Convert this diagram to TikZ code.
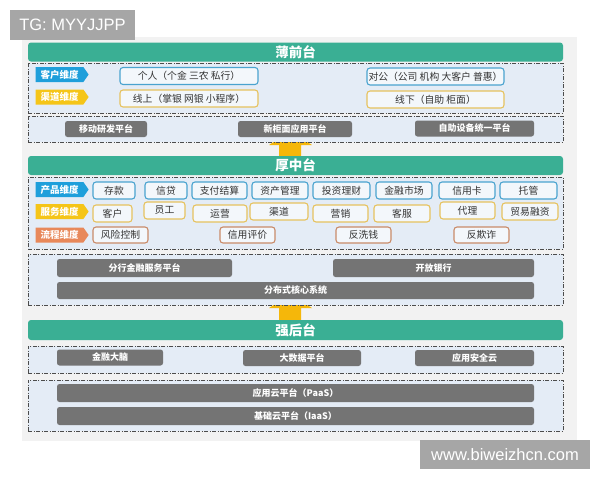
\documentclass[tikz,border=0pt]{standalone}
\usepackage{fontspec}
\setmainfont{Noto Sans CJK SC}
\newfontfamily\wmfont{Liberation Sans}
\usetikzlibrary{shapes.symbols,positioning}

\definecolor{teal}{HTML}{3AAF94}
\definecolor{panelfill}{HTML}{E4ECF6}
\definecolor{boxfill}{HTML}{F3F7FB}
\definecolor{bluetag}{HTML}{1E9FDB}
\definecolor{blueline}{HTML}{4AA3CF}
\definecolor{yellowtag}{HTML}{F5C518}
\definecolor{yellowline}{HTML}{E6C25E}
\definecolor{orangetag}{HTML}{E8885A}
\definecolor{orangeline}{HTML}{C98B69}
\definecolor{barfill}{HTML}{747474}
\definecolor{bgfill}{HTML}{F2F2F2}
\definecolor{wmfill}{HTML}{A6A6A6}
\definecolor{arrowfill}{HTML}{F5B70A}

\tikzset{
  titlebar/.style = {fill = teal, rounded corners = 3pt, minimum width = 535pt, minimum height = 19pt,
    text = white, font = \fontsize{13.5}{15}\selectfont\bfseries},
  panel/.style = {draw = black!70, fill = panelfill, line width = .55pt,
    dash pattern = on 4pt off 1.5pt on 1pt off 1.5pt, minimum width = 535pt},
  tag/.style = {signal, signal to = east, signal pointer angle = 110, fill = #1,
    minimum width = 53pt, minimum height = 15pt, text = white, font = \fontsize{9.5}{11}\selectfont\bfseries},
  dimbox/.style = {draw = #1, fill = boxfill, line width = 1.1pt, rounded corners = 3pt,
    minimum height = 17pt, text = black!80},
  bar/.style = {fill = barfill, rounded corners = 2.5pt, minimum height = 17pt,
    text = white, font = \fontsize{9}{11}\selectfont\bfseries},
  watermark/.style = {fill = wmfill, text = white, font = \wmfont\fontsize{16.5}{18}\selectfont}
}

\begin{document}
\begin{tikzpicture}[x = 1pt, y = -1pt, every node/.style = {inner sep = 0pt, font = \fontsize{9.8}{11}\selectfont}]
    \useasboundingbox (0,0) rectangle (600,480);
    \fill[bgfill] (22,37) rectangle (577,441);
    % arrows between the layers, mostly hidden
    \fill[arrowfill] (279,157) -- (279,145) -- (269,145) -- (290,131) -- (312,145) -- (301,145) -- (301,157) -- cycle;
    \fill[arrowfill] (279,320) -- (279,308) -- (269,308) -- (290,294) -- (312,308) -- (301,308) -- (301,320) -- cycle;

    % thin front
    \node[titlebar] (thin) at (295.5,52) {薄前台};
    \node[panel, minimum height = 50pt] (frontdims) at (295.5,88) {};
    \node[tag = bluetag] (custdim) at (59.5,74.5) {客户维度};
    \node[tag = yellowtag] (chandim) at (59.5,97) {渠道维度};
    \node[dimbox = blueline, minimum width = 138pt] (retail) at (189,76) {个人（个金 三农 私行）};
    \node[dimbox = blueline, minimum width = 137pt] (corp) at (435.5,76.5) {对公（公司 机构 大客户 普惠）};
    \node[dimbox = yellowline, minimum width = 138pt] (online) at (189,98.5) {线上（掌银 网银 小程序）};
    \node[dimbox = yellowline, minimum width = 137pt] (offline) at (435.5,99.5) {线下（自助 柜面）};
    \node[panel, minimum height = 26pt] (frontbase) at (295.5,129) {};
    \node[bar, minimum width = 82pt, minimum height = 16pt] (mobile) at (106,129) {移动研发平台};
    \node[bar, minimum width = 114pt, minimum height = 16pt] (counter) at (295,129) {新柜面应用平台};
    \node[bar, minimum width = 119pt, minimum height = 16pt] (selfserv) at (474.5,128.5) {自助设备统一平台};

    % thick middle
    \node[titlebar] (thick) at (295.5,165.5) {厚中台};
    \node[panel, minimum height = 72pt] (middims) at (295.5,213) {};
    \node[tag = bluetag] (proddim) at (59.5,189.5) {产品维度};
    \node[tag = yellowtag] (servdim) at (59.5,211.5) {服务维度};
    \node[tag = orangetag] (procdim) at (59.5,235) {流程维度};
    \node[dimbox = blueline, minimum width = 42pt] (deposit) at (114,190.5) {存款};
    \node[dimbox = blueline, minimum width = 42pt] (loan) at (166,190.5) {信贷};
    \node[dimbox = blueline, minimum width = 55pt] (payment) at (219.5,190.5) {支付结算};
    \node[dimbox = blueline, minimum width = 56pt] (asset) at (280,190.5) {资产管理};
    \node[dimbox = blueline, minimum width = 57pt] (wealth) at (341.5,190.5) {投资理财};
    \node[dimbox = blueline, minimum width = 56pt] (market) at (404,190.5) {金融市场};
    \node[dimbox = blueline, minimum width = 56pt] (card) at (467,190.5) {信用卡};
    \node[dimbox = blueline, minimum width = 57pt] (custody) at (528.5,190.5) {托管};
    \node[dimbox = yellowline, minimum width = 39pt] (client) at (112.5,213.5) {客户};
    \node[dimbox = yellowline, minimum width = 41pt] (staff) at (164.5,210.5) {员工};
    \node[dimbox = yellowline, minimum width = 54pt] (ops) at (220,213.5) {运营};
    \node[dimbox = yellowline, minimum width = 58pt] (channel) at (279,211.5) {渠道};
    \node[dimbox = yellowline, minimum width = 55pt] (marketing) at (340.5,213.5) {营销};
    \node[dimbox = yellowline, minimum width = 56pt] (support) at (402,213.5) {客服};
    \node[dimbox = yellowline, minimum width = 55pt] (agency) at (467.5,210.5) {代理};
    \node[dimbox = yellowline, minimum width = 56pt] (trade) at (530,211.5) {贸易融资};
    \node[dimbox = orangeline, minimum width = 55pt, minimum height = 16pt] (risk) at (120.5,235) {风险控制};
    \node[dimbox = orangeline, minimum width = 55pt, minimum height = 16pt] (credit) at (247.5,235) {信用评价};
    \node[dimbox = orangeline, minimum width = 55pt, minimum height = 16pt] (aml) at (363.5,235) {反洗钱};
    \node[dimbox = orangeline, minimum width = 55pt, minimum height = 16pt] (fraud) at (481.5,235) {反欺诈};
    \node[panel, minimum height = 51pt] (midbase) at (295.5,279.5) {};
    \node[bar, minimum width = 175pt, minimum height = 18pt] (branch) at (144.5,268) {分行金融服务平台};
    \node[bar, minimum width = 201pt, minimum height = 18pt] (openbank) at (433.5,268) {开放银行};
    \node[bar, minimum width = 477pt] (core) at (295.5,290.5) {分布式核心系统};

    % strong back
    \node[titlebar, minimum height = 20pt] (strong) at (295.5,330) {强后台};
    \node[panel, minimum height = 27pt] (backapps) at (295.5,359.5) {};
    \node[bar, minimum width = 106pt, minimum height = 16pt] (brain) at (110,357.5) {金融大脑};
    \node[bar, minimum width = 118pt, minimum height = 16pt] (bigdata) at (302,358) {大数据平台};
    \node[bar, minimum width = 119pt, minimum height = 16pt] (secure) at (474.5,358) {应用安全云};
    \node[panel, minimum height = 51pt] (backcloud) at (295.5,405.5) {};
    \node[bar, minimum width = 477pt, minimum height = 18pt] (paas) at (295.5,393) {应用云平台（PaaS）};
    \node[bar, minimum width = 477pt, minimum height = 18pt] (iaas) at (295.5,416) {基础云平台（IaaS）};

    \node[watermark, minimum width = 125pt, minimum height = 30pt] (tg) at (72.5,25) {TG: MYYJJPP};
    \node[watermark, minimum width = 170pt, minimum height = 29pt] (site) at (505,454.5) {www.biweizhcn.com};
\end{tikzpicture}
\end{document}
